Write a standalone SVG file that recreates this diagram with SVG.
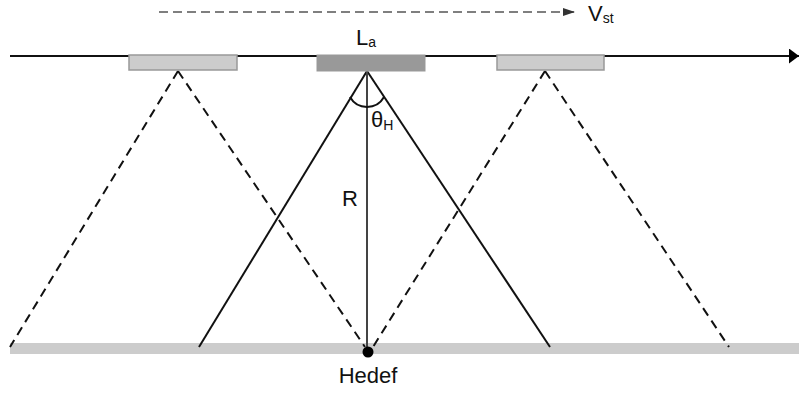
<svg xmlns="http://www.w3.org/2000/svg" width="799" height="396" viewBox="0 0 799 396">
<style>
  text { font-family: "Liberation Sans", Arial, sans-serif; fill: #111; }
  .lbl { font-size: 22px; }
  .sub { font-size: 14px; }
  .solid { stroke: #111; stroke-width: 2; fill: none; }
  .dash { stroke: #111; stroke-width: 2; stroke-dasharray: 9 6; fill: none; }
  .light { fill: #cccccc; stroke: #999999; stroke-width: 1.5; }
  .dark { fill: #999999; stroke: #999999; stroke-width: 1; }
</style>
<defs>
  <marker id="arrBlack" markerWidth="10" markerHeight="15" refX="10" refY="7.5" orient="auto" markerUnits="userSpaceOnUse">
    <path d="M0,0 L10,7.5 L0,15 Z" fill="#000"/>
  </marker>
  <marker id="arrGray" markerWidth="12" markerHeight="8" refX="12" refY="4" orient="auto" markerUnits="userSpaceOnUse">
    <path d="M0,0 L12,4 L0,8 Z" fill="#333"/>
  </marker>
</defs>

<g id="ground">
  <rect x="10" y="343" width="789" height="11" fill="#cccccc"/>
</g>

<g id="connectors">
  <line id="track" x1="10" y1="56" x2="799" y2="56" class="solid" marker-end="url(#arrBlack)"/>
  <line id="velocity" x1="159" y1="12" x2="575" y2="12" stroke="#555" stroke-width="1.5" stroke-dasharray="9 5" marker-end="url(#arrGray)"/>
  <line x1="178" y1="71" x2="10" y2="347" class="dash"/>
  <line x1="178" y1="71" x2="365" y2="347" class="dash"/>
  <line x1="545" y1="71" x2="373" y2="347" class="dash"/>
  <line x1="545" y1="71" x2="729" y2="347" class="dash"/>
  <line x1="367" y1="71" x2="199" y2="347" class="solid"/>
  <line x1="367" y1="71" x2="550" y2="347" class="solid"/>
  <line x1="367" y1="71" x2="367" y2="350" stroke="#444" stroke-width="2"/>
  <path d="M350,97 A19.5,19.5 0 0 0 384,97" class="solid" stroke-width="1.5"/>
</g>

<g id="antenna-left">
  <rect x="129" y="55" width="108" height="15" class="light"/>
</g>
<g id="antenna-center">
  <rect x="317" y="55" width="108" height="16" class="dark"/>
  <text x="356" y="45" class="lbl">L<tspan class="sub" dy="2">a</tspan></text>
</g>
<g id="antenna-right">
  <rect x="497" y="55" width="107" height="15" class="light"/>
</g>

<g id="labels">
  <text x="588" y="21" class="lbl" font-size="21">V<tspan class="sub" dy="2">st</tspan></text>
  <text x="371" y="127" class="lbl">θ<tspan class="sub" dy="3">H</tspan></text>
  <text x="342" y="206" class="lbl">R</text>
</g>

<g id="target">
  <circle cx="368" cy="352" r="5.5" fill="#000"/>
  <text x="368" y="383" class="lbl" text-anchor="middle" font-size="23">Hedef</text>
</g>
</svg>
